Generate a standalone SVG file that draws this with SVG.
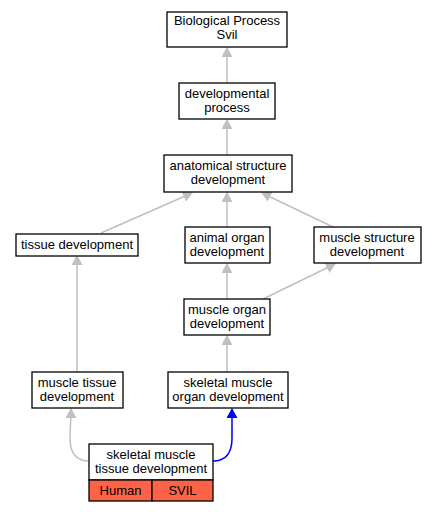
<svg xmlns="http://www.w3.org/2000/svg" width="437" height="512" viewBox="0 0 437 512">
<style>
.n rect{fill:#fff;stroke:#000;stroke-width:1.3}
.n text,.g text{font-family:"Liberation Sans",Arial,sans-serif;font-size:13px;text-anchor:middle;fill:#000}
.e{fill:none;stroke:#c0c0c0;stroke-width:1.5}
.b{fill:none;stroke:#0000ff;stroke-width:1.5}
.g rect{fill:#ff6347;stroke:#000;stroke-width:1.3}
</style>
<defs>
<marker id="ag" markerWidth="10" markerHeight="11" refX="9" refY="5.5" orient="auto" markerUnits="userSpaceOnUse"><path d="M0,0 L10,5.5 L0,11 Z" fill="#c0c0c0"/></marker>
<marker id="ab" markerWidth="10" markerHeight="11" refX="9" refY="5.5" orient="auto" markerUnits="userSpaceOnUse"><path d="M0,0 L10,5.5 L0,11 Z" fill="#0000ff"/></marker>
</defs>
<rect width="437" height="512" fill="#fff"/>
<g id="edges">
<path class="e" d="M227,83 L227,48" marker-end="url(#ag)"/>
<path class="e" d="M227,155 L227,120" marker-end="url(#ag)"/>
<path class="e" d="M101,233 L192,193" marker-end="url(#ag)"/>
<path class="e" d="M227,227 L227,193" marker-end="url(#ag)"/>
<path class="e" d="M333,227 L262,193" marker-end="url(#ag)"/>
<path class="e" d="M77,372 L77,256" marker-end="url(#ag)"/>
<path class="e" d="M227,299 L227,264" marker-end="url(#ag)"/>
<path class="e" d="M263,299 L335,264" marker-end="url(#ag)"/>
<path class="e" d="M227,372 L227,336" marker-end="url(#ag)"/>
<path class="e" d="M89,461 C75,461 70,452 70,438 C70,428 71,420 71,409" marker-end="url(#ag)"/>
<path class="b" d="M213,461 C227,461 232,452 232,438 C232,428 232,420 232,409" marker-end="url(#ab)"/>
</g>
<g id="n1" class="n"><rect x="167" y="12" width="120" height="35"/><text x="227" y="25">Biological Process</text><text x="227" y="39">Svil</text></g>
<g id="n2" class="n"><rect x="179" y="83" width="96" height="36"/><text x="227" y="98">developmental</text><text x="227" y="112">process</text></g>
<g id="n3" class="n"><rect x="164" y="155" width="128" height="37"/><text x="228" y="170">anatomical structure</text><text x="228" y="184">development</text></g>
<g id="n4" class="n"><rect x="16" y="234" width="122" height="22"/><text x="77" y="249">tissue development</text></g>
<g id="n5" class="n"><rect x="185" y="227" width="85" height="36"/><text x="227" y="242">animal organ</text><text x="227" y="256">development</text></g>
<g id="n6" class="n"><rect x="314" y="227" width="107" height="36"/><text x="367" y="242">muscle structure</text><text x="367" y="256">development</text></g>
<g id="n7" class="n"><rect x="184" y="299" width="86" height="36"/><text x="227" y="314">muscle organ</text><text x="227" y="328">development</text></g>
<g id="n8" class="n"><rect x="32" y="372" width="91" height="36"/><text x="77" y="387">muscle tissue</text><text x="77" y="401">development</text></g>
<g id="n9" class="n"><rect x="168" y="372" width="120" height="36"/><text x="228" y="387">skeletal muscle</text><text x="228" y="401">organ development</text></g>
<g id="n10" class="n"><rect x="89" y="444" width="124" height="36"/><text x="151" y="459">skeletal muscle</text><text x="151" y="473">tissue development</text></g>
<g id="n10g" class="g"><rect x="89" y="480" width="63" height="21"/><rect x="152" y="480" width="61" height="21"/><text x="120.5" y="495">Human</text><text x="182.5" y="495">SVIL</text></g>
</svg>
